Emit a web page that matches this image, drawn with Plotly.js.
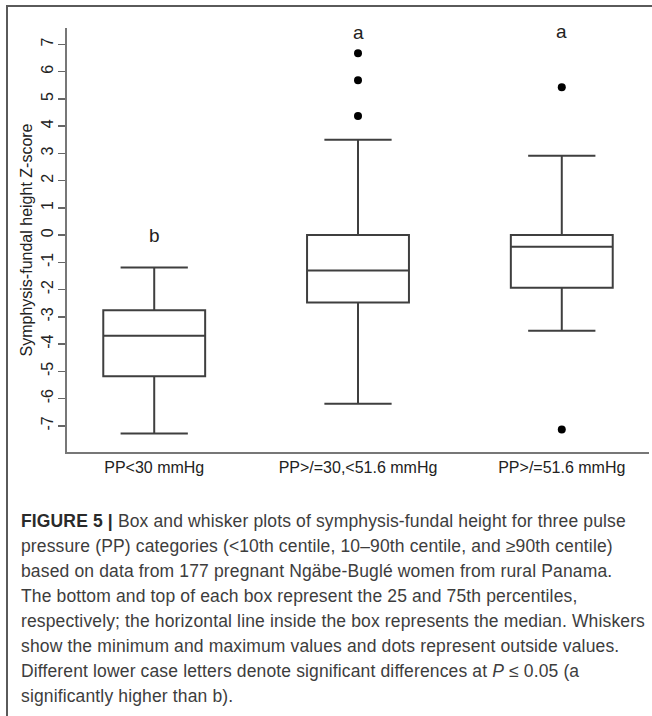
<!DOCTYPE html>
<html>
<head>
<meta charset="utf-8">
<script src="https://cdn.plot.ly/plotly-3.0.1.min.js"></script>
<style>
  html, body { margin: 0; padding: 0; background: #ffffff; }
  #wrap { position: relative; width: 652px; height: 716px; overflow: hidden; }
  #plot { position: absolute; left: 0; top: 0; width: 652px; height: 716px; }
  #frame { position: absolute; left: 6px; top: 5px; width: 660px; height: 720px;
           border-left: 2px solid #5a5a5a; border-top: 2px solid #5a5a5a; pointer-events: none; }
  #caption { position: absolute; left: 21px; top: 509px; font-family: "Liberation Sans", Arial, sans-serif;
             font-weight: 400; font-size: 17.5px; letter-spacing: 0.14px; line-height: 25px; color: #3d3d3d; white-space: nowrap; }
  #caption b { font-weight: 700; color: #2a2a2a; }
</style>
</head>
<body>
<div id="wrap">
  <div id="plot"></div>
  <div id="frame"></div>
  <div id="caption">
    <b>FIGURE 5 |</b> Box and whisker plots of symphysis-fundal height for three pulse<br>
    pressure (PP) categories (&lt;10th centile, 10–90th centile, and ≥90th centile)<br>
    based on data from 177 pregnant Ngäbe-Buglé women from rural Panama.<br>
    The bottom and top of each box represent the 25 and 75th percentiles,<br>
    respectively; the horizontal line inside the box represents the median. Whiskers<br>
    show the minimum and maximum values and dots represent outside values.<br>
    Different lower case letters denote significant differences at <i>P</i> ≤ 0.05 (a<br>
    significantly higher than b).
  </div>
</div>
<script>
// ---- data ----
var categories = ["PP<30 mmHg", "PP>/=30,<51.6 mmHg", "PP>/=51.6 mmHg"];
var lowerWhisker = [-7.28, -6.19, -3.51];
var q1 = [-5.18, -2.47, -1.93];
var median = [-3.69, -1.30, -0.43];
var q3 = [-2.76, 0.00, 0.00];
var upperWhisker = [-1.19, 3.50, 2.91];
var outliers = [[], [6.67, 5.68, 4.37], [5.43, -7.13]];
var groupLetters = ["b", "a", "a"];
var letterY = [0.0, 7.45, 7.47];
var yTickValues = [-7, -6, -5, -4, -3, -2, -1, 0, 1, 2, 3, 4, 5, 6, 7];
var yTickLabels = ["-7", "-6", "-5", "-4", "-3", "-2", "-1", "0", "1", "2", "3", "4", "5", "6", "7"];
var yTitle = "Symphysis-fundal height Z-score";

// ---- build traces ----
var outX = [], outY = [];
outliers.forEach(function (arr, i) {
  arr.forEach(function (v) { outX.push(categories[i]); outY.push(v); });
});

var boxTrace = {
  type: "box",
  x: categories,
  q1: q1,
  median: median,
  q3: q3,
  lowerfence: lowerWhisker,
  upperfence: upperWhisker,
  boxpoints: false,
  width: 0.5,
  whiskerwidth: 0.66,
  fillcolor: "rgba(255,255,255,0)",
  line: { color: "#3f3f3f", width: 2 },
  hoverinfo: "skip",
  showlegend: false
};

var outlierTrace = {
  type: "scatter",
  mode: "markers",
  x: outX,
  y: outY,
  marker: { color: "#000000", size: 8 },
  hoverinfo: "skip",
  showlegend: false
};

var annotations = groupLetters.map(function (t, i) {
  return {
    x: categories[i], y: letterY[i], xref: "x", yref: "y",
    text: t, showarrow: false, yanchor: "middle", xanchor: "center",
    font: { family: "Liberation Sans, Arial, sans-serif", size: 19, color: "#222222" }
  };
});

var layout = {
  width: 652,
  height: 716,
  margin: { l: 67, r: 3, t: 28, b: 263.5 },
  paper_bgcolor: "#ffffff",
  plot_bgcolor: "#ffffff",
  font: { family: "Liberation Sans, Arial, sans-serif", size: 16, color: "#222222" },
  xaxis: {
    type: "category",
    range: [-0.428, 2.428],
    showline: true,
    linecolor: "#777777",
    linewidth: 2,
    ticks: "",
    showgrid: false,
    zeroline: false,
    tickfont: { size: 16, color: "#222222" },
    fixedrange: true
  },
  yaxis: {
    range: [-7.96, 7.60],
    tickvals: yTickValues,
    ticktext: yTickLabels,
    tickangle: -90,
    ticks: "outside",
    ticklen: 7,
    tickwidth: 1.5,
    tickcolor: "#666666",
    ticklabelstandoff: -1,
    showline: true,
    linecolor: "#777777",
    linewidth: 2,
    showgrid: false,
    zeroline: false,
    tickfont: { size: 16, color: "#222222" },
    title: { text: yTitle, font: { size: 16, color: "#222222" }, standoff: 2 },
    automargin: false,
    fixedrange: true
  },
  annotations: annotations,
  showlegend: false
};

Plotly.newPlot("plot", [boxTrace, outlierTrace], layout, { displayModeBar: false, staticPlot: true });
</script>
</body>
</html>
